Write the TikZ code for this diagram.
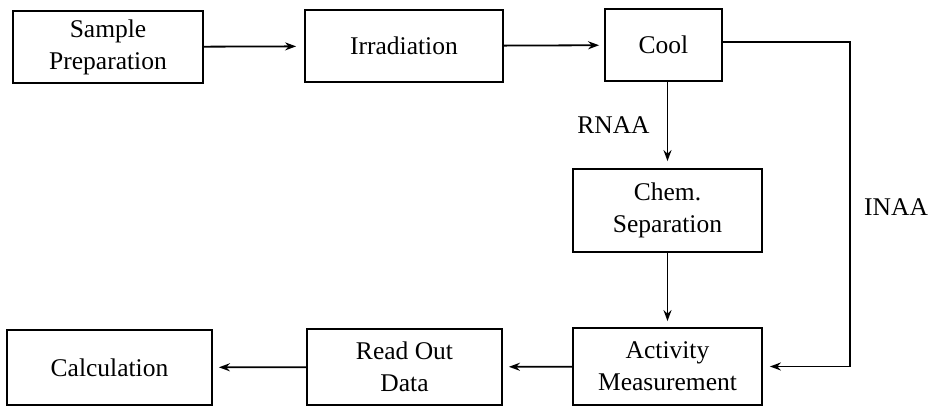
\documentclass[tikz,border=0pt]{standalone}
\usepackage{fontspec}
\setmainfont{Liberation Serif}
\usetikzlibrary{arrows.meta,positioning}

\begin{document}
\begin{tikzpicture}[x=1pt,y=1pt,
    stagebox/.style={draw,line width=1.8pt,align=center,inner sep=0pt,
        font=\fontsize{25.5}{32}\selectfont},
    flow/.style={line width=1.8pt,-{Stealth[length=11pt,width=8pt]}},
    lbl/.style={inner sep=0pt,font=\fontsize{25.5}{32}\selectfont}]
    \useasboundingbox (0,0) rectangle (932,407);

    % top row
    \node[stagebox,minimum width=190pt,minimum height=72pt] (prep) at (108,360) {Sample\\Preparation};
    \node[stagebox,minimum width=198pt,minimum height=72pt] (irr) at (404,361) {Irradiation};
    \node[stagebox,minimum width=117pt,minimum height=72pt] (cool) at (663.5,362) {Cool};

    % right column
    \node[stagebox,minimum width=189pt,minimum height=83pt] (chem) at (667.5,196.5) {Chem.\\Separation};
    \node[stagebox,minimum width=189pt,minimum height=77pt] (act) at (667.5,40.5) {Activity\\Measurement};

    % bottom row
    \node[stagebox,minimum width=195pt,minimum height=76pt] (read) at (404.5,40) {Read Out\\Data};
    \node[stagebox,minimum width=205pt,minimum height=75pt] (calc) at (109.5,39.5) {Calculation};

    \coordinate (inaa) at (850,200);

    \draw[flow,shorten >=8pt] (prep) -- (irr);
    \draw[flow,shorten >=5pt] (irr) -- (cool);
    \draw[flow,shorten >=7pt] (cool.south -| chem) -- (chem) node[lbl,midway,left=17pt] {RNAA};
    \draw[flow,shorten >=6pt] (chem) -- (act);
    \draw[flow,shorten >=7pt] ([yshift=3pt]cool.east) -| (inaa) |- (act.east);
    \node[lbl,right=14pt] at (inaa) {INAA};
    \draw[flow,shorten >=6pt] (act) -- (read);
    \draw[flow,shorten >=6pt] (read) -- (calc);
\end{tikzpicture}
\end{document}
